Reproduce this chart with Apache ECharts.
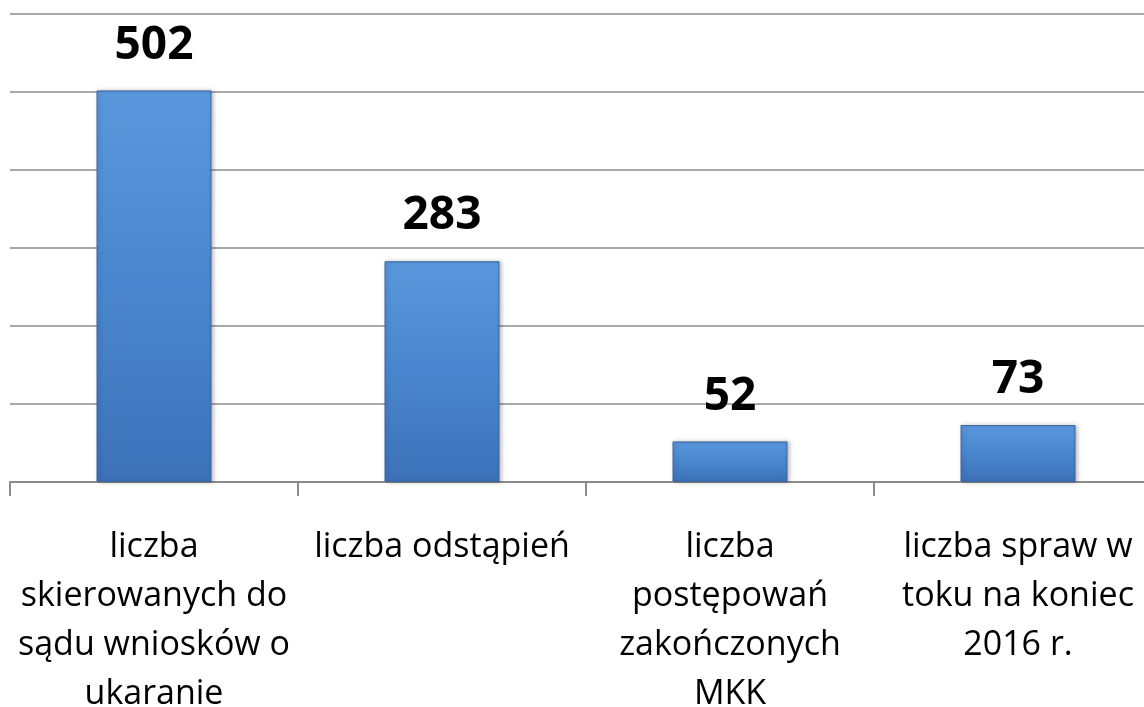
<!DOCTYPE html>
<html>
<head>
<meta charset="utf-8">
<script src="https://cdn.jsdelivr.net/npm/echarts@6/dist/echarts.min.js"></script>
<style>
html, body { margin: 0; padding: 0; background: #fff; }
#chart { width: 1144px; height: 707px; }
</style>
</head>
<body>
<div id="chart"></div>
<script>
var categories = [
    'liczba\nskierowanych do\nsądu wniosków o\nukaranie',
    'liczba odstąpień',
    'liczba\npostępowań\nzakończonych\nMKK',
    'liczba spraw w\ntoku na koniec\n2016 r.'
];
var values = [502, 283, 52, 73];
var yTicks = [0, 100, 200, 300, 400, 500, 600];

var chart = echarts.init(document.getElementById('chart'));
var option = {
    backgroundColor: '#ffffff',
    animation: false,
    grid: { left: 10, right: -18, top: 14, bottom: 225, outerBoundsMode: 'none', containLabel: false },
    xAxis: {
        type: 'category',
        data: categories,
        axisLine: { lineStyle: { color: '#8c8c8c', width: 2 } },
        axisTick: { show: true, length: 14, lineStyle: { color: '#8c8c8c', width: 2 } },
        axisLabel: {
            interval: 0,
            margin: 41,
            color: '#000',
            fontFamily: 'Open Sans',
            fontSize: 34,
            lineHeight: 49,
            align: 'center'
        }
    },
    yAxis: {
        type: 'value',
        min: yTicks[0],
        max: yTicks[yTicks.length - 1],
        interval: 100,
        axisLine: { show: false },
        axisTick: { show: false },
        axisLabel: { show: false },
        splitLine: { lineStyle: { color: '#8c8c8c', width: 1.5 } }
    },
    series: [{
        type: 'bar',
        data: values,
        barWidth: 115,
        itemStyle: {
            color: new echarts.graphic.LinearGradient(0, 0, 0, 1, [
                { offset: 0, color: '#5a97dc' },
                { offset: 0.5, color: '#4a86cf' },
                { offset: 1, color: '#3d72b8' }
            ]),
            borderColor: '#3a659d',
            borderWidth: 1,
            shadowColor: 'rgba(0,0,0,0.25)',
            shadowBlur: 4,
            shadowOffsetX: 2
        },
        label: {
            show: true,
            position: 'top',
            distance: 22,
            color: '#000',
            fontFamily: 'Open Sans',
            fontWeight: 'bold',
            fontSize: 46
        }
    }]
};
chart.setOption(option);
</script>
</body>
</html>
